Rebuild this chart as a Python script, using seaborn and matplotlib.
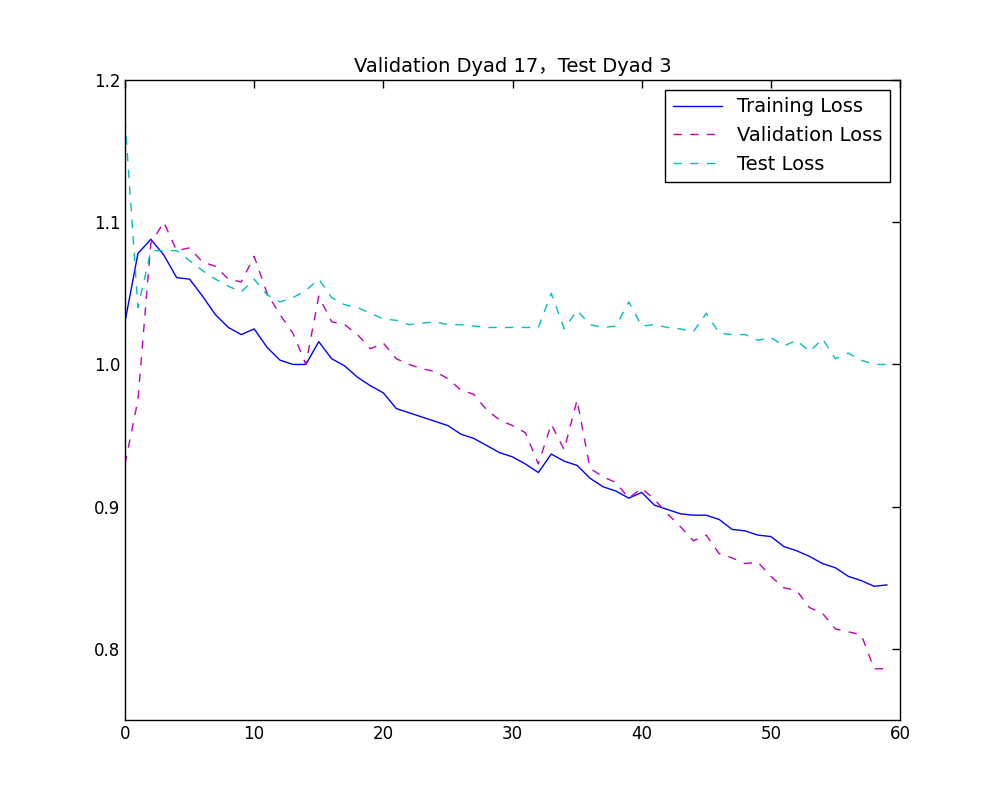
import matplotlib
matplotlib.use("Agg")
import matplotlib.pyplot as plt
import seaborn as sns
import pandas as pd
import numpy as np

epochs = list(range(60))
train = [1.03,1.078,1.088,1.077,1.061,1.060,1.048,1.035,1.026,1.021,1.025,1.012,1.003,1.000,1.000,1.016,1.004,0.999,0.991,0.985,
         0.980,0.969,0.966,0.963,0.960,0.957,0.951,0.948,0.943,0.938,0.935,0.930,0.924,0.937,0.932,0.929,0.920,0.914,0.911,0.906,
         0.910,0.901,0.898,0.895,0.894,0.894,0.891,0.884,0.883,0.880,0.879,0.872,0.869,0.865,0.860,0.857,0.851,0.848,0.844,0.845]
val = [0.93,0.975,1.085,1.100,1.080,1.082,1.072,1.069,1.060,1.058,1.076,1.050,1.035,1.022,1.000,1.048,1.030,1.028,1.021,1.011,
       1.015,1.004,1.000,0.997,0.995,0.990,0.982,0.979,0.968,0.961,0.957,0.952,0.930,0.958,0.940,0.975,0.927,0.921,0.917,0.906,
       0.913,0.905,0.895,0.886,0.876,0.880,0.867,0.864,0.860,0.861,0.851,0.843,0.841,0.829,0.825,0.814,0.812,0.810,0.786,0.786]
test = [1.172,1.040,1.080,1.080,1.080,1.073,1.066,1.060,1.055,1.051,1.060,1.049,1.044,1.047,1.052,1.060,1.047,1.042,1.040,1.036,
        1.032,1.031,1.028,1.029,1.030,1.028,1.028,1.027,1.026,1.026,1.026,1.026,1.026,1.050,1.025,1.038,1.028,1.026,1.027,1.044,
        1.027,1.028,1.026,1.025,1.023,1.036,1.022,1.021,1.021,1.017,1.019,1.013,1.017,1.009,1.018,1.004,1.008,1.003,1.000,1.000]

sns.set_style("white")
plt.rcParams['font.family'] = ['DejaVu Sans', 'Noto Sans CJK SC']
plt.rcParams['text.color'] = 'k'
plt.rcParams['xtick.color'] = 'k'
plt.rcParams['ytick.color'] = 'k'
plt.rcParams['xtick.direction'] = 'in'
plt.rcParams['ytick.direction'] = 'in'

fig = plt.figure(figsize=(10, 8), dpi=100)
ax = fig.add_axes([0.125, 0.1, 0.775, 0.8])
sns.lineplot(x=epochs, y=train, ax=ax, color='b', lw=1, label='Training Loss')
sns.lineplot(x=epochs, y=val, ax=ax, color='m', lw=1, dashes=(6, 6), label='Validation Loss')
sns.lineplot(x=epochs, y=test, ax=ax, color='c', lw=1, dashes=(6, 6), label='Test Loss')
ax.set_xlim(0, 60)
ax.set_ylim(0.75, 1.2)
ax.set_xticks([0, 10, 20, 30, 40, 50, 60])
ax.set_yticks([0.8, 0.9, 1.0, 1.1, 1.2])
ax.tick_params(top=True, right=True, labelsize=12, length=6, width=1, color='k', labelcolor='k')
for s in ax.spines.values():
    s.set_color('k'); s.set_linewidth(1)
ax.set_title('Validation Dyad 17，Test Dyad 3', fontsize=14, color='k')
leg = ax.legend(loc='upper right', fontsize=14, fancybox=False, framealpha=1, edgecolor='k', handlelength=2.5)
leg.get_frame().set_linewidth(1)
for t in leg.get_texts():
    t.set_color('k')
fig.savefig('out.png')
